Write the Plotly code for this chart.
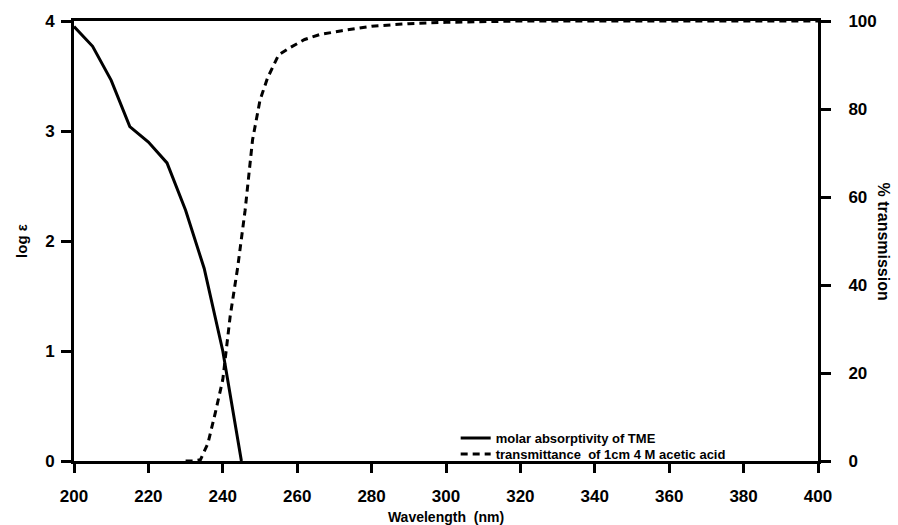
import plotly.graph_objects as go

# Molar absorptivity of TME (log epsilon) vs wavelength
wl_tme = [200, 205, 210, 215, 220, 225, 230, 235, 240, 245]
log_eps = [3.95, 3.77, 3.46, 3.04, 2.90, 2.71, 2.28, 1.75, 1.00, 0.0]

# Transmittance of 1 cm 4 M acetic acid (%)
wl_acid = [230, 232, 234, 236, 238, 240, 242, 244, 246, 248, 250, 252, 255,
           258, 262, 266, 272, 280, 290, 300, 320, 350, 400]
trans = [0, 0, 0.3, 4, 11, 18.5, 33, 44, 57, 73, 82, 87, 92.3,
         93.9, 95.8, 96.9, 97.8, 98.8, 99.4, 99.7, 100, 100, 100]

x_ticks = [200, 220, 240, 260, 280, 300, 320, 340, 360, 380, 400]
y_ticks = [0, 1, 2, 3, 4]
y2_ticks = [0, 20, 40, 60, 80, 100]

FONT = "Liberation Sans, Arial, sans-serif"
tick_font = dict(family=FONT, size=17, color="black", weight="bold")
title_font = dict(family=FONT, size=14, color="black", weight="bold")
legend_font = dict(family=FONT, size=13, color="black", weight="bold")

fig = go.Figure()
fig.add_trace(go.Scatter(
    x=wl_tme, y=log_eps, mode="lines", name="molar absorptivity of TME",
    line=dict(color="black", width=3), yaxis="y", legend="legend",
))
fig.add_trace(go.Scatter(
    x=wl_acid, y=trans, mode="lines",
    name="transmittance  of 1cm 4 M acetic acid",
    line=dict(color="black", width=3, dash="7px,5px"), yaxis="y2",
    legend="legend2",
))

legend_common = dict(
    x=0.513, xanchor="left", yanchor="middle",
    bgcolor="rgba(0,0,0,0)", borderwidth=0, font=legend_font,
)

fig.update_layout(
    width=898, height=525,
    margin=dict(l=74, r=80, t=21, b=64),
    paper_bgcolor="white", plot_bgcolor="white",
    showlegend=True,
    legend=dict(y=0.0523, **legend_common),
    legend2=dict(y=0.0159, **legend_common),
    xaxis=dict(
        range=[200, 400], tickvals=x_ticks, ticks="outside", ticklen=9,
        tickwidth=3, tickcolor="black", showline=True, linewidth=3,
        linecolor="black", mirror=True, showgrid=False, zeroline=False,
        tickfont=tick_font, ticklabelstandoff=9, automargin=False,
        title=dict(text="Wavelength  (nm)", standoff=14, font=title_font),
    ),
    yaxis=dict(
        range=[0, 4], tickvals=y_ticks, ticks="outside", ticklen=10,
        tickwidth=3, tickcolor="black", showline=True, linewidth=3,
        linecolor="black", showgrid=False, zeroline=False,
        tickfont=tick_font, ticklabelstandoff=3, automargin=False,
        title=dict(text="log ε", standoff=14,
                   font=dict(family=FONT, size=15, color="black", weight="bold")),
    ),
    yaxis2=dict(
        range=[0, 100], tickvals=y2_ticks, overlaying="y", side="right",
        ticks="outside", ticklen=10, tickwidth=3, tickcolor="black",
        showline=True, linewidth=3, linecolor="black", showgrid=False,
        zeroline=False, tickfont=tick_font, ticklabelstandoff=14,
        automargin=False,
    ),
    annotations=[dict(
        text="% transmission", xref="paper", yref="paper",
        x=1.0, y=0.5, xshift=76, showarrow=False, textangle=90,
        font=dict(family=FONT, size=16, color="black", weight="bold"),
    )],
)

fig.write_html("out.html")
